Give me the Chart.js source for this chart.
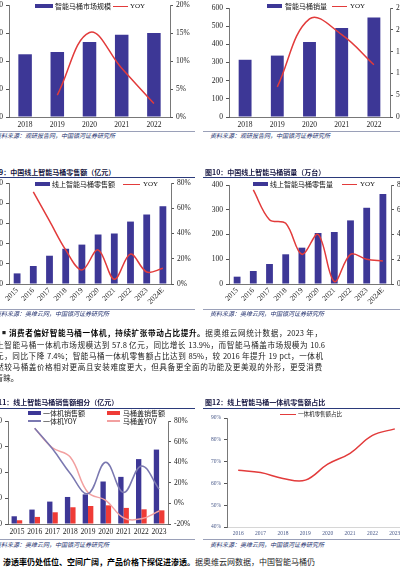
<!DOCTYPE html>
<html>
<head>
<meta charset="utf-8">
<script src="https://cdn.jsdelivr.net/npm/chart.js@4.4.1/dist/chart.umd.min.js"></script>
<style>
html, body { margin: 0; padding: 0; }
body { width: 400px; height: 567px; overflow: hidden; position: relative; background: #fff;
	font-family: "Noto Sans CJK SC", "Noto Sans", sans-serif; color: #1a1a1a; }
.lg { position: absolute; white-space: nowrap; font-size: 7px; line-height: 10px; color: #111; }
.box { position: absolute; height: 4px; background: #3d3796; }
.ln { position: absolute; height: 1.5px; background: #e23b3b; }
.ttl { position: absolute; white-space: nowrap; font-size: 7px; line-height: 10px; font-weight: bold; color: #151540; }
.rule { position: absolute; height: 1px; background: #2b3a7a; }
.srcl { position: absolute; height: 1px; background: #9aa0b8; }
.src { position: absolute; white-space: nowrap; font-size: 6px; line-height: 8px; font-style: italic; color: #22306e; }
.para { position: absolute; white-space: nowrap; font-size: 7.6px; line-height: 10px; color: #222;
	text-align: justify; text-align-last: justify; }
.para b { color: #000; }
.serif { font-family: "Liberation Serif", serif; }
</style>
</head>
<body>

<!-- legends, row 1 -->
<div class="box" style="left:35px;top:4px;width:18px;"></div>
<div class="lg" style="left:55px;top:1px;">智能马桶市场规模</div>
<div class="ln" style="left:113px;top:5.5px;width:15px;"></div>
<div class="lg serif" style="left:130px;top:1px;">YOY</div>

<div class="box" style="left:267px;top:4px;width:15px;"></div>
<div class="lg" style="left:285px;top:1px;">智能马桶销量</div>
<div class="ln" style="left:332px;top:5.5px;width:15px;"></div>
<div class="lg serif" style="left:350px;top:1px;">YOY</div>

<div class="srcl" style="left:0;top:131px;width:195px;"></div>
<div class="srcl" style="left:203px;top:131px;width:197px;"></div>
<div class="src" style="left:-5px;top:132px;">资料来源：观研报告网，中国银河证券研究所</div>
<div class="src" style="left:210px;top:132px;">资料来源：观研报告网，中国银河证券研究所</div>

<!-- row 2 -->
<div class="ttl" style="left:-8px;top:167px;">图9：中国线上智能马桶零售额（亿元）</div>
<div class="ttl" style="left:205px;top:167px;">图10：中国线上智能马桶销量（万台）</div>
<div class="rule" style="left:0;top:177px;width:195px;"></div>
<div class="rule" style="left:203px;top:177px;width:197px;"></div>

<div class="box" style="left:35px;top:182px;width:15px;"></div>
<div class="lg" style="left:52px;top:179px;">线上智能马桶零售额</div>
<div class="ln" style="left:123px;top:183.5px;width:17px;"></div>
<div class="lg serif" style="left:143px;top:179px;">YOY</div>

<div class="box" style="left:253px;top:182px;width:15px;"></div>
<div class="lg" style="left:270px;top:179px;">线上智能马桶零售量</div>
<div class="ln" style="left:342px;top:183.5px;width:15px;"></div>
<div class="lg serif" style="left:360px;top:179px;">YOY</div>

<div class="srcl" style="left:0;top:309px;width:195px;"></div>
<div class="srcl" style="left:203px;top:309px;width:197px;"></div>
<div class="src" style="left:-5px;top:310px;">资料来源：奥维云网，中国银河证券研究所</div>
<div class="src" style="left:210px;top:310px;">资料来源：奥维云网，中国银河证券研究所</div>

<!-- paragraph -->
<div class="para" style="left:2px;top:328px;width:320px;"><span style="font-size:4px;vertical-align:1px;">■</span> <b>消费者偏好智能马桶一体机，持续扩张带动占比提升。</b>据奥维云网统计数据，2023 年，</div>
<div class="para" style="left:-12px;top:340px;width:337px;">线上智能马桶一体机市场规模达到 57.8 亿元，同比增长 13.9%，而智能马桶盖市场规模为 10.6</div>
<div class="para" style="left:-12px;top:351px;width:335px;">亿元，同比下降 7.4%；智能马桶一体机零售额占比达到 85%，较 2016 年提升 19 pct，一体机</div>
<div class="para" style="left:-12px;top:362px;width:334px;">虽然较马桶盖价格相对更高且安装难度更大，但具备更全面的功能及更美观的外形，更受消费</div>
<div class="para" style="left:-12px;top:373px;text-align:left;text-align-last:left;">者青睐。</div>

<!-- row 3 -->
<div class="ttl" style="left:-9px;top:397px;">图11：线上智能马桶销售额细分（亿元）</div>
<div class="ttl" style="left:205px;top:397px;">图12：线上智能马桶一体机零售额占比</div>
<div class="rule" style="left:0;top:408px;width:195px;"></div>
<div class="rule" style="left:203px;top:408px;width:197px;"></div>

<div class="box" style="left:28px;top:411px;width:13px;"></div>
<div class="lg" style="left:43px;top:408px;">一体机销售额</div>
<div class="box" style="left:107px;top:411px;width:13px;background:#ef3b36;"></div>
<div class="lg" style="left:123px;top:408px;">马桶盖销售额</div>
<div class="ln" style="left:28px;top:420px;width:13px;background:#7a78b0;"></div>
<div class="lg" style="left:43px;top:416px;">一体机YOY</div>
<div class="ln" style="left:107px;top:420px;width:13px;background:#f2a0a0;"></div>
<div class="lg" style="left:123px;top:416px;">马桶盖YOY</div>

<div class="ln" style="left:280px;top:413.5px;width:16px;"></div>
<div class="lg" style="left:298px;top:409px;font-size:5.5px;">一体机零售额占比</div>

<div class="srcl" style="left:0;top:539px;width:195px;"></div>
<div class="srcl" style="left:203px;top:539px;width:197px;"></div>
<div class="src" style="left:-5px;top:541px;">资料来源：奥维云网，中国银河证券研究所</div>
<div class="src" style="left:210px;top:541px;">资料来源：奥维云网，中国银河证券研究所</div>

<div class="para" style="left:3px;top:557px;width:312px;font-size:8px;"><b>渗透率仍处低位、空间广阔，产品价格下探促进渗透。</b>据奥维云网数据，中国智能马桶仍</div>

<script>
// chart data
var years5 = ["2018", "2019", "2020", "2021", "2022"];
var marketSize = [112, 116, 134, 147, 150];          // 智能马桶市场规模
var marketYoy = [null, 3.9, 15.1, 8.7, 2.4];          // %
var salesVolume = [315, 338, 413, 490, 548];         // 智能马桶销量
var salesYoy = [null, 6.9, 22.5, 18.9, 12.0];

var years10 = ["2015", "2016", "2017", "2018", "2019", "2020", "2021", "2022", "2023", "2024E"];
var onlineRetail = [10.5, 17.8, 28, 34.9, 39, 49, 50, 61.8, 68.8, 77];      // 亿元
var onlineRetailYoy = [null, 72.9, 50, 27, 11, 27, 3.7, 23.7, 9.5, 12.4];
var onlineUnits = [29.6, 52.5, 80.8, 120, 146.8, 206, 210, 257, 308, 363.6]; // 万台
var onlineUnitsYoy = [null, 76, 52, 49, 24, 40, 2, 24, 20, 18.6];

var years9 = ["2015", "2016", "2017", "2018", "2019", "2020", "2021", "2022", "2023"];
var integratedSales = [6, 11.2, 17.4, 21, 23, 33, 36.6, 50.4, 57.8];
var lidSales = [2.9, 5.5, 9.1, 13, 14, 14.5, 12.5, 11.4, 10.6];
var integratedYoy = [null, 73, 53, 29, 9.5, 40, 10.5, 36.4, 13.9];
var lidYoy = [null, 73, 54, 45, 10.5, 3, -14, -15, -7.4];

var years8 = ["2016", "2017", "2018", "2019", "2020", "2021", "2022", "2023"];
var integratedShare = [66, 65, 62.3, 61.5, 68.8, 73.8, 82, 85];

var BLUE = "#3d3796", RED = "#e23b3b";
Chart.defaults.font.family = "Liberation Serif";
Chart.defaults.color = "#222";

function pct(v) { return v + "%"; }
function num(v) { return "" + v; }

function yAxis(pos, min, max, step, w, fmt, size, color) {
	return {
		position: pos, min: min, max: max,
		ticks: { stepSize: step, padding: 3, font: { size: size || 7.5 }, color: color || "#222", callback: fmt },
		grid: { display: true, drawOnChartArea: false, drawTicks: true, tickLength: 3, color: "#555" },
		border: { display: true, color: "#555", width: 0.8 },
		afterFit: function(s) { s.width = w; s.paddingTop = 0; s.paddingBottom = 0; }
	};
}

function xAxis(h, rot, pad, size, color) {
	return {
		type: "category", offset: true,
		ticks: { autoSkip: false, maxRotation: rot, minRotation: rot, padding: pad, font: { size: size || 7.5 }, color: color || "#222" },
		grid: { display: false, drawTicks: false },
		border: { display: true, color: "#555", width: 0.8 },
		afterFit: function(s) { s.height = h; s.paddingLeft = 0; s.paddingRight = 0; }
	};
}

// canvas box (cx,cy,cw,ch), plot top py1
function makeChart(cx, cy, cw, ch, py1, padRight, data, scales) {
	var cv = document.createElement("canvas");
	cv.style.cssText = "position:absolute;left:" + cx + "px;top:" + cy + "px;width:" + cw + "px;height:" + ch + "px;";
	cv.width = cw;
	cv.height = ch;
	document.body.insertBefore(cv, document.body.firstChild);
	return new Chart(cv.getContext("2d"), {
		type: "bar",
		data: data,
		options: {
			responsive: false, animation: false,
			layout: { padding: { left: 0, top: py1 - cy, right: padRight, bottom: 0 } },
			plugins: { legend: { display: false }, tooltip: { enabled: false } },
			scales: scales
		}
	});
}

function barSet(vals, color, bp) {
	return { type: "bar", data: vals, backgroundColor: color, yAxisID: "y", order: 2,
		barPercentage: bp, categoryPercentage: 1 };
}
function lineSet(vals, color, tension) {
	return { type: "line", data: vals, borderColor: color, borderWidth: 1.5, pointRadius: 0,
		tension: tension, yAxisID: "y1", order: 0, fill: false };
}

// top left: 智能马桶市场规模
makeChart(-25, 0, 220, 131, 5, 0,
	{ labels: years5, datasets: [barSet(marketSize, BLUE, 0.42), lineSet(marketYoy, RED, 0.4)] },
	{ x: xAxis(14, 0, 4), y: yAxis("left", 0, 200, 50, 34, num), y1: yAxis("right", 0, 20, 5, 25, pct) });

// top right: 智能马桶销量
makeChart(200, 0, 220, 131, 8, 0,
	{ labels: years5, datasets: [barSet(salesVolume, BLUE, 0.4), lineSet(salesYoy, RED, 0.4)] },
	{ x: xAxis(14, 0, 4), y: yAxis("left", 0, 600, 100, 29, num), y1: yAxis("right", 0, 25, 5, 30, pct) });

// 图9
makeChart(-25, 178, 220, 130, 183, 0,
	{ labels: years10, datasets: [barSet(onlineRetail, BLUE, 0.42), lineSet(onlineRetailYoy, RED, 0.35)] },
	{ x: xAxis(24, 45, 2), y: yAxis("left", 0, 100, 20, 34, num), y1: yAxis("right", 0, 80, 20, 24, pct) });

// 图10
makeChart(200, 178, 220, 130, 185, 0,
	{ labels: years10, datasets: [barSet(onlineUnits, BLUE, 0.42), lineSet(onlineUnitsYoy, RED, 0.35)] },
	{ x: xAxis(24, 45, 2), y: yAxis("left", 0, 400, 100, 29, num), y1: yAxis("right", 0, 80, 20, 29, pct) });

// 图11
var e1 = barSet(integratedSales, BLUE, 1); e1.categoryPercentage = 0.6;
var e2 = barSet(lidSales, "#ef3b36", 1); e2.categoryPercentage = 0.6;
makeChart(-25, 412, 220, 126, 421, 0,
	{ labels: years9, datasets: [e1, e2, lineSet(integratedYoy, "#7a78b0", 0.4), lineSet(lidYoy, "#f2a0a0", 0.4)] },
	{ x: xAxis(14, 0, 4), y: yAxis("left", 0, 80, 20, 33, num), y1: yAxis("right", -20, 80, 20, 27, pct) });

// 图12
var f1 = lineSet(integratedShare, RED, 0.4); f1.yAxisID = "y";
var fx = xAxis(11, 0, 3, 5.5, "#4a5a8a"); fx.border.color = "#ccc";
makeChart(195, 410, 225, 128, 418, 14,
	{ labels: years8, datasets: [f1] },
	{ x: fx, y: yAxis("left", 40, 90, 10, 32, pct, 5.5, "#4a5a8a") });
</script>
</body>
</html>
